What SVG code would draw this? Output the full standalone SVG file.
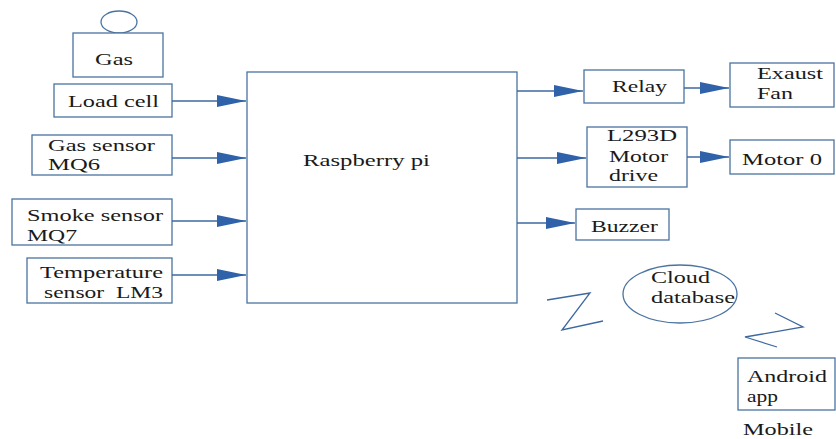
<svg xmlns="http://www.w3.org/2000/svg" width="836" height="439" viewBox="0 0 836 439">
<defs>
<style>
.box{fill:#fff;stroke:#4a73a0;stroke-width:1.3}
.ln{fill:none;stroke:#3d68a0;stroke-width:1.3}
.t{font-family:"Liberation Serif","Times New Roman",serif;font-size:17.5px;fill:#1a1a1a}
</style>
<marker id="ah" markerUnits="userSpaceOnUse" markerWidth="30" markerHeight="14" refX="29" refY="7" orient="auto">
<path d="M0,1 L29,7 L0,13 z" fill="#2f62a8"/>
</marker>
</defs>
<rect width="836" height="439" fill="#fff"/>
<g id="gas">
<ellipse class="box" cx="119" cy="22" rx="18" ry="11"/>
<rect class="box" x="73" y="33" width="90" height="44"/>
<text class="t" x="95" y="65" textLength="38" lengthAdjust="spacingAndGlyphs">Gas</text>
</g>
<g id="loadcell">
<rect class="box" x="54" y="84" width="118" height="33"/>
<text class="t" x="68" y="107" textLength="91" lengthAdjust="spacingAndGlyphs">Load cell</text>
</g>
<g id="gassensor">
<rect class="box" x="32" y="135" width="140" height="40"/>
<text class="t" x="48" y="151" textLength="107" lengthAdjust="spacingAndGlyphs">Gas sensor</text>
<text class="t" x="48" y="170" textLength="52" lengthAdjust="spacingAndGlyphs">MQ6</text>
</g>
<g id="smokesensor">
<rect class="box" x="12" y="199" width="160" height="46"/>
<text class="t" x="27" y="221" textLength="136" lengthAdjust="spacingAndGlyphs">Smoke sensor</text>
<text class="t" x="27" y="241" textLength="50" lengthAdjust="spacingAndGlyphs">MQ7</text>
</g>
<g id="tempsensor">
<rect class="box" x="27" y="258" width="145" height="45"/>
<text class="t" x="40" y="278" textLength="123" lengthAdjust="spacingAndGlyphs">Temperature</text>
<text class="t" x="44" y="298" textLength="119" lengthAdjust="spacingAndGlyphs" xml:space="preserve">sensor  LM3</text>
</g>
<g id="raspberrypi">
<rect class="box" x="247" y="72" width="270" height="231"/>
<text class="t" x="303" y="166" textLength="127" lengthAdjust="spacingAndGlyphs">Raspberry pi</text>
</g>
<g id="relay">
<rect class="box" x="584" y="70" width="100" height="33"/>
<text class="t" x="612" y="92" textLength="55" lengthAdjust="spacingAndGlyphs">Relay</text>
</g>
<g id="exaustfan">
<rect class="box" x="730" y="63" width="104" height="44"/>
<text class="t" x="757" y="79" textLength="66" lengthAdjust="spacingAndGlyphs">Exaust</text>
<text class="t" x="757" y="99" textLength="36" lengthAdjust="spacingAndGlyphs">Fan</text>
</g>
<g id="l293d">
<rect class="box" x="587" y="127" width="100" height="60"/>
<text class="t" x="607" y="141" textLength="70" lengthAdjust="spacingAndGlyphs">L293D</text>
<text class="t" x="609" y="162" textLength="59" lengthAdjust="spacingAndGlyphs">Motor</text>
<text class="t" x="609" y="181" textLength="49" lengthAdjust="spacingAndGlyphs">drive</text>
</g>
<g id="motor0">
<rect class="box" x="730" y="140" width="104" height="34"/>
<text class="t" x="742" y="165" textLength="80" lengthAdjust="spacingAndGlyphs">Motor 0</text>
</g>
<g id="buzzer">
<rect class="box" x="576" y="209" width="93" height="31"/>
<text class="t" x="591" y="232" textLength="67" lengthAdjust="spacingAndGlyphs">Buzzer</text>
</g>
<g id="cloud">
<ellipse class="box" cx="680" cy="294" rx="57" ry="29"/>
<text class="t" x="651" y="283" textLength="59" lengthAdjust="spacingAndGlyphs">Cloud</text>
<text class="t" x="651" y="303" textLength="84" lengthAdjust="spacingAndGlyphs">database</text>
</g>
<g id="android">
<rect class="box" x="738" y="358" width="97" height="52"/>
<text class="t" x="747" y="382" textLength="80" lengthAdjust="spacingAndGlyphs">Android</text>
<text class="t" x="747" y="402" textLength="31" lengthAdjust="spacingAndGlyphs">app</text>
<text class="t" x="743" y="435" textLength="70" lengthAdjust="spacingAndGlyphs">Mobile</text>
</g>
<g id="connectors">
<line class="ln" x1="172" y1="101" x2="246" y2="101" marker-end="url(#ah)"/>
<line class="ln" x1="172" y1="158" x2="246" y2="158" marker-end="url(#ah)"/>
<line class="ln" x1="172" y1="221" x2="246" y2="221" marker-end="url(#ah)"/>
<line class="ln" x1="172" y1="275" x2="246" y2="275" marker-end="url(#ah)"/>
<line class="ln" x1="517" y1="91" x2="583" y2="91" marker-end="url(#ah)"/>
<line class="ln" x1="517" y1="158" x2="586" y2="158" marker-end="url(#ah)"/>
<line class="ln" x1="517" y1="223" x2="575" y2="223" marker-end="url(#ah)"/>
<line class="ln" x1="684" y1="88" x2="729" y2="88" marker-end="url(#ah)"/>
<line class="ln" x1="687" y1="157" x2="729" y2="157" marker-end="url(#ah)"/>
<polyline class="ln" points="547,300 590,293 562,330 603,321"/>
<polyline class="ln" points="775,313 803,327 745,337 777,347"/>
</g>
</svg>
